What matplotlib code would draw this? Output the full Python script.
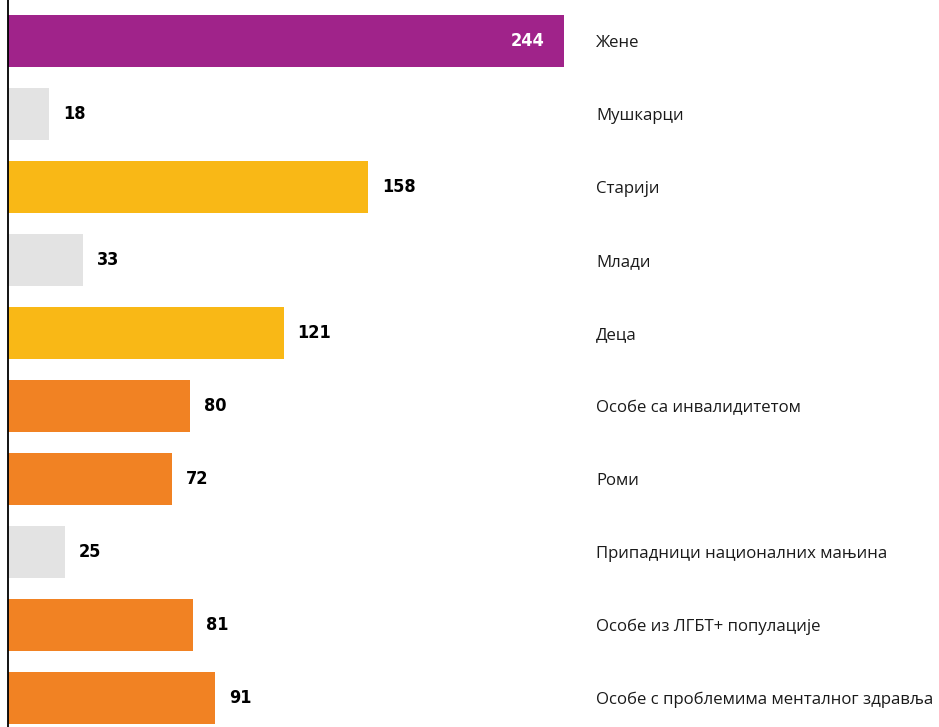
import matplotlib
matplotlib.use('Agg')
import matplotlib.pyplot as plt
import matplotlib.transforms as mtransforms

categories = ['Жене', 'Мушкарци', 'Старији', 'Млади', 'Деца',
              'Особе са инвалидитетом', 'Роми', 'Припадници националних мањина',
              'Особе из ЛГБТ+ популације', 'Особе с проблемима менталног здравља']
values = [244, 18, 158, 33, 121, 80, 72, 25, 81, 91]
colors = ['#A0238A', '#E3E3E3', '#F9B816', '#E3E3E3', '#F9B816',
          '#F18223', '#F18223', '#E3E3E3', '#F18223', '#F18223']

fig = plt.figure(figsize=(9.39, 7.27), dpi=100)
ax = fig.add_axes([8 / 939, 0, 931 / 939, 1])

pos = list(range(len(values)))
ax.barh(pos, values, height=0.71, color=colors)

px_per_unit = 2.279
ax.set_xlim(0, 931 / px_per_unit)
ax.set_ylim((727 - 41) / 73, -41 / 73)

for sp in ['top', 'right', 'bottom']:
    ax.spines[sp].set_visible(False)
ax.spines['left'].set_linewidth(1.3)
ax.spines['left'].set_color('black')
ax.set_xticks([])
ax.set_yticks([])

for i, v in enumerate(values):
    if i == 0:
        ax.annotate(str(v), (v, i), xytext=(-14, 0), textcoords='offset points',
                    ha='right', va='center', color='white', fontsize=13,
                    fontweight='bold', family='DejaVu Sans', fontstretch='condensed')
    else:
        ax.annotate(str(v), (v, i), xytext=(10, 0), textcoords='offset points',
                    ha='left', va='center', color='black', fontsize=13,
                    fontweight='bold', family='DejaVu Sans', fontstretch='condensed')

trans = mtransforms.blended_transform_factory(ax.transAxes, ax.transData)
for i, c in enumerate(categories):
    ax.text((596 - 8) / 931, i, c, transform=trans, ha='left', va='center_baseline',
            fontsize=12.05, family=['Open Sans', 'DejaVu Sans'], color='#1a1a1a')

fig.savefig('out.png', dpi=100)
